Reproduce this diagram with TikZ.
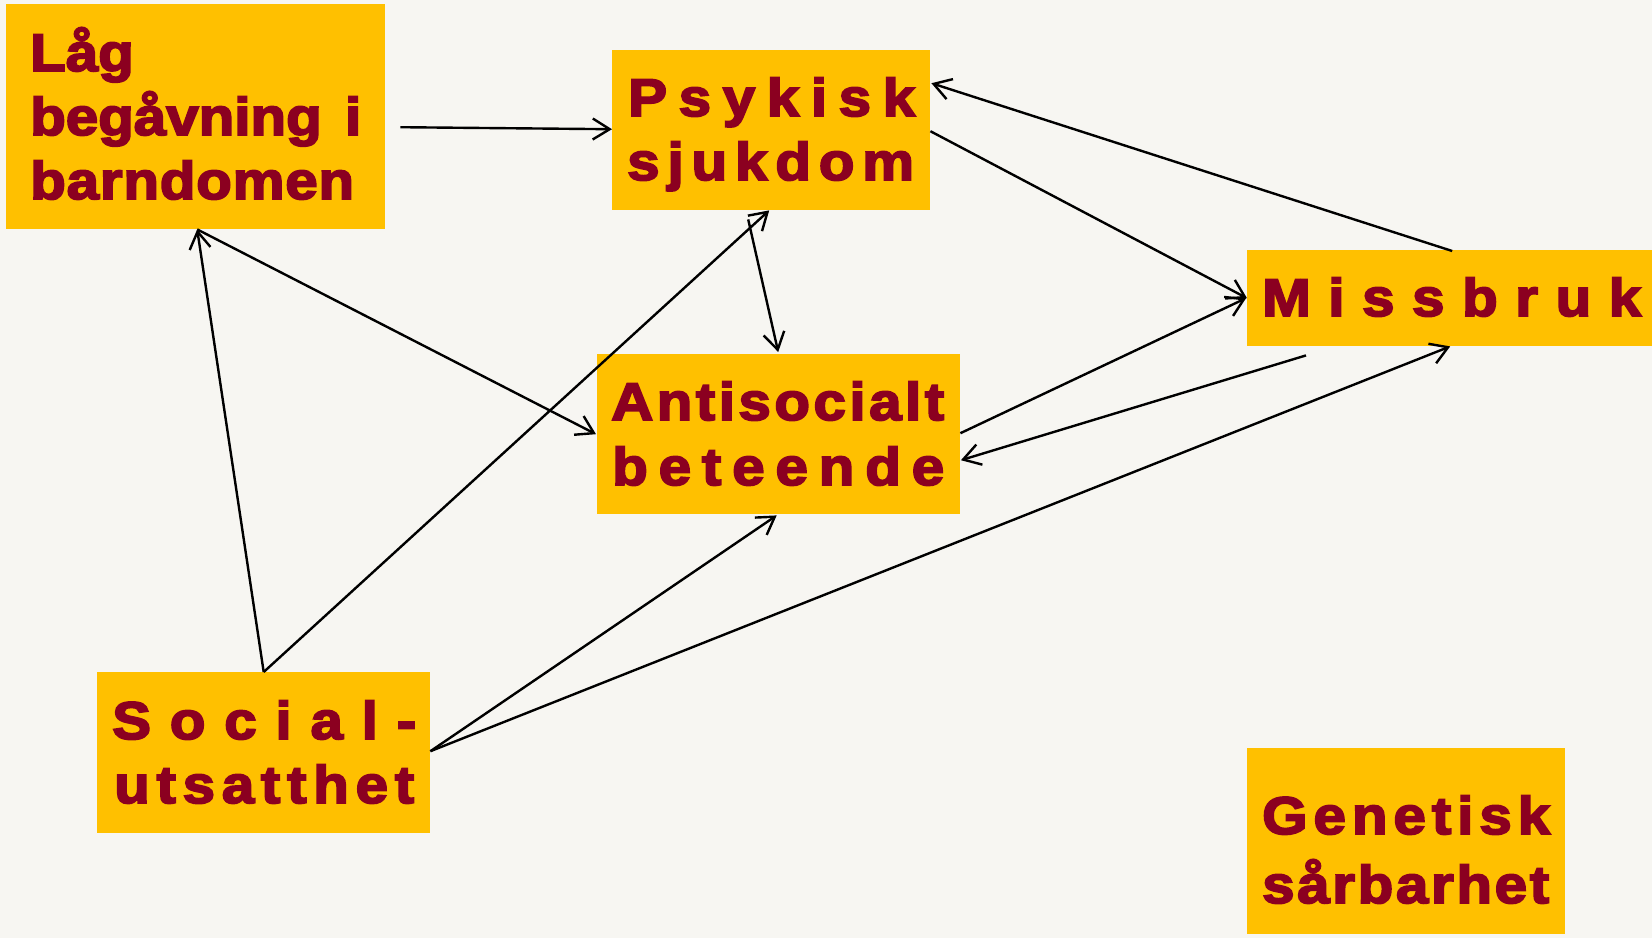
\documentclass[tikz,border=0pt]{standalone}
\usepackage{fontspec}
\usetikzlibrary{arrows.meta}
\newfontfamily\bx{Liberation Sans}[FakeStretch=1.1,FakeBold=3.5]
\definecolor{bg}{HTML}{F7F6F2}
\definecolor{boxfill}{HTML}{FFC000}
\definecolor{txtred}{HTML}{8B0020}
\makeatletter
\def\lsp#1{\lsp@#1\@nil}
\def\lsp@#1#2\@nil{#1\if\relax\detokenize{#2}\relax\else\hfill\lsp@#2\@nil\fi}
\makeatother
\newcommand{\spr}[2]{\makebox[#1pt][s]{\lsp{#2}}}
\tikzset{
  box/.style={fill=boxfill, draw=none, inner sep=0pt, anchor=north west},
  txt/.style={inner sep=0pt, anchor=base west, text=txtred, font=\bx\bfseries\fontsize{53}{64}\selectfont},
  arr/.style={draw=black, line width=2.4pt, -{Straight Barb[length=17pt,width=21pt,line width=2.4pt]}},
}
\begin{document}
\begin{tikzpicture}[x=1pt,y=-1pt]
\fill[bg] (0,0) rectangle (1652,938);
\useasboundingbox (0,0) rectangle (1652,938);
% boxes
\node[box, minimum width=379pt, minimum height=225pt] (lag) at (6,4) {};
\node[box, minimum width=318pt, minimum height=160pt] (psy) at (612,50) {};
\node[box, minimum width=405pt, minimum height=96pt] (mis) at (1247,250) {};
\node[box, minimum width=363pt, minimum height=160pt] (ant) at (597,354) {};
\node[box, minimum width=333pt, minimum height=161pt] (soc) at (97,672) {};
\node[box, minimum width=318pt, minimum height=186pt] (gen) at (1247,748) {};
% texts
\node[txt] (lag1) at (30,71) {Låg};
\node[txt] (lag2) at (30,135) {\makebox[331pt][s]{begåvning\hfill i}};
\node[txt] (lag3) at (30,199) {\makebox[324pt][s]{\lsp{barndomen}}};
\node[txt] (psy1) at (628,116) {\spr{287}{Psykisk}};
\node[txt] (psy2) at (627,180) {\spr{287}{sjukdom}};
\node[txt] (mis1) at (1262,316) {\spr{379}{Missbruk}};
\node[txt] (ant1) at (611,420) {\spr{333}{Antisocialt}};
\node[txt] (ant2) at (612,485) {\spr{332}{beteende}};
\node[txt] (soc1) at (112,739) {\spr{304}{Social-}};
\node[txt] (soc2) at (114,803) {\spr{300}{utsatthet}};
\node[txt] (gen1) at (1262,834) {\spr{288}{Genetisk}};
\node[txt] (gen2) at (1262,903) {\spr{287}{sårbarhet}};
% connectors
\draw[arr] ([xshift=15pt,yshift=-10.5pt]lag.east) -- ([yshift=1pt]psy.west);
\draw[arr] ([yshift=-1pt]psy.east) -- (mis.west);
\draw[arr] ([xshift=2.5pt,yshift=-1pt]mis.north) -- ([xshift=1pt,yshift=47pt]psy.east);
\draw[arr] (soc.north) -- ([xshift=1.5pt]lag.south);
\draw[arr] ([xshift=1.5pt]lag.south) -- ([xshift=-1pt]ant.west);
\draw[arr] (soc.north) -- ([xshift=-2pt]psy.south);
\draw[arr] ([xshift=-23pt,yshift=-9pt]psy.south) -- ([xshift=-0.5pt,yshift=2pt]ant.north);
\draw[arr] ([yshift=1pt]ant.east) -- ([xshift=-1pt]mis.west);
\draw[arr] ([xshift=59pt,yshift=-9pt]mis.south west) -- ([xshift=0.5pt,yshift=-26pt]ant.east);
\draw[arr] ([yshift=1.5pt]soc.east) -- ([xshift=-2pt,yshift=-1pt]ant.south);
\draw[arr] ([yshift=1.5pt]soc.east) -- ([xshift=0.5pt]mis.south);
\end{tikzpicture}
\end{document}
